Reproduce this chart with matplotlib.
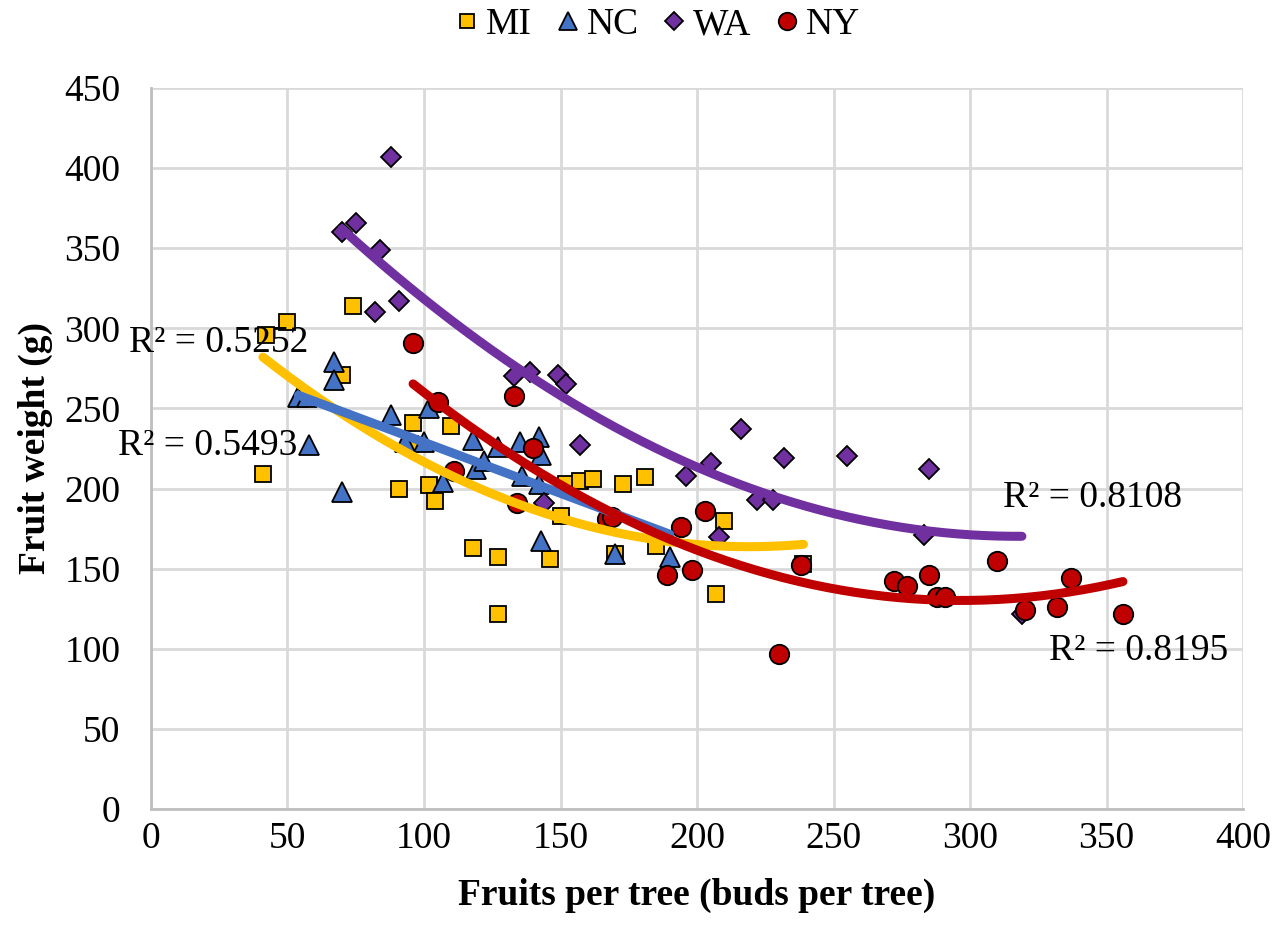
import matplotlib
matplotlib.use("Agg")
import matplotlib.pyplot as plt
import numpy as np

# data
mi_x = [41, 42, 50, 70, 74, 91, 95, 96, 102, 104, 110, 118, 127, 127, 146, 150,
        152, 157, 162, 170, 173, 181, 185, 207, 210, 239]
mi_y = [209, 296, 304, 271, 314, 200, 228, 241, 202, 192, 239, 163, 157, 122, 156, 183,
        203, 205, 206, 159, 203, 207, 164, 134, 180, 153]

nc_x = [54, 57, 58, 67, 67, 70, 88, 93, 100, 102, 107, 118, 119, 122, 127, 135,
        136, 142, 142, 143, 143, 170, 190]
nc_y = [257, 257, 227, 279, 268, 198, 246, 229, 229, 250, 204, 230, 212, 217, 226, 229,
        208, 232, 203, 221, 167, 159, 157]

wa_x = [70, 75, 82, 84, 88, 91, 133, 139, 144, 149, 152, 157, 196, 205, 208, 216,
        222, 228, 232, 255, 283, 285, 319]
wa_y = [360, 366, 310, 349, 407, 317, 270, 273, 191, 271, 265, 227, 208, 216, 170, 237,
        193, 193, 219, 220, 171, 212, 122]

ny_x = [96, 105, 111, 133, 134, 140, 167, 169, 189, 194, 198, 203, 230, 238, 272, 277,
        285, 288, 291, 310, 320, 332, 337, 356]
ny_y = [291, 254, 211, 258, 191, 225, 181, 182, 146, 176, 149, 186, 97, 152, 142, 139,
        146, 132, 132, 155, 124, 126, 144, 122]

labels = ['MI', 'NC', 'WA', 'NY']
r2_text = ['R² = 0.5252', 'R² = 0.5493', 'R² = 0.8108', 'R² = 0.8195']

plt.rcParams['font.family'] = ['Liberation Serif', 'DejaVu Serif']

fig = plt.figure(figsize=(12.86, 9.27), dpi=100)
ax = fig.add_axes([0.1174, 0.1273, 0.8492, 0.7778])

# x, y, marker, colour, size, trend order
series = [
    (mi_x, mi_y, 's', '#FFC000', 11, 2),
    (nc_x, nc_y, '^', '#4472C4', 14, 1),
    (wa_x, wa_y, 'D', '#7030A0', 10, 2),
    (ny_x, ny_y, 'o', '#C00000', 14, 2),
]

for (x, y, m, c, ms, deg), lab in zip(series, labels):
    ax.plot(x, y, linestyle='none', marker=m, markersize=ms, markerfacecolor=c,
            markeredgecolor='black', markeredgewidth=1.3, label=lab, zorder=3)

# trendlines
for x, y, m, c, ms, deg in series:
    coef = np.polyfit(x, y, deg)
    xs = np.linspace(min(x), max(x), 200)
    ax.plot(xs, np.polyval(coef, xs), color=c, linewidth=6.5, solid_capstyle='round', zorder=4)

# R² labels
ax.text(-8, 291, r2_text[0], fontsize=27, va='center', ha='left', clip_on=False, zorder=5)
ax.text(-12, 227, r2_text[1], fontsize=27, va='center', ha='left', clip_on=False, zorder=5)
ax.text(312, 194, r2_text[2], fontsize=27, va='center', ha='left', zorder=5)
ax.text(329, 99, r2_text[3], fontsize=27, va='center', ha='left', zorder=5)

ax.set_xlim(0, 400)
ax.set_ylim(0, 450)
ax.set_xticks(np.arange(0, 401, 50))
ax.set_yticks(np.arange(0, 451, 50))
ax.tick_params(length=0, labelsize=27)
ax.tick_params(axis='y', pad=22)
ax.tick_params(axis='x', pad=9)
ax.grid(True, color='#D9D9D9', linewidth=2)
ax.set_axisbelow(True)
for s in ['top', 'right']:
    ax.spines[s].set_visible(False)
for s in ['left', 'bottom']:
    ax.spines[s].set_color('#BFBFBF')
    ax.spines[s].set_linewidth(2)

ax.set_xlabel('Fruits per tree (buds per tree)', fontsize=27, fontweight='bold', labelpad=16)
ax.set_ylabel('Fruit weight (g)', fontsize=27, fontweight='bold', labelpad=8)

fig.legend(loc='upper center', bbox_to_anchor=(0.511, 1.02), ncol=4, frameon=False,
           fontsize=27, handlelength=0.7, handletextpad=0.15, columnspacing=0.6,
           markerscale=0.9, borderpad=0.2)

fig.savefig('out.png', dpi=100)
